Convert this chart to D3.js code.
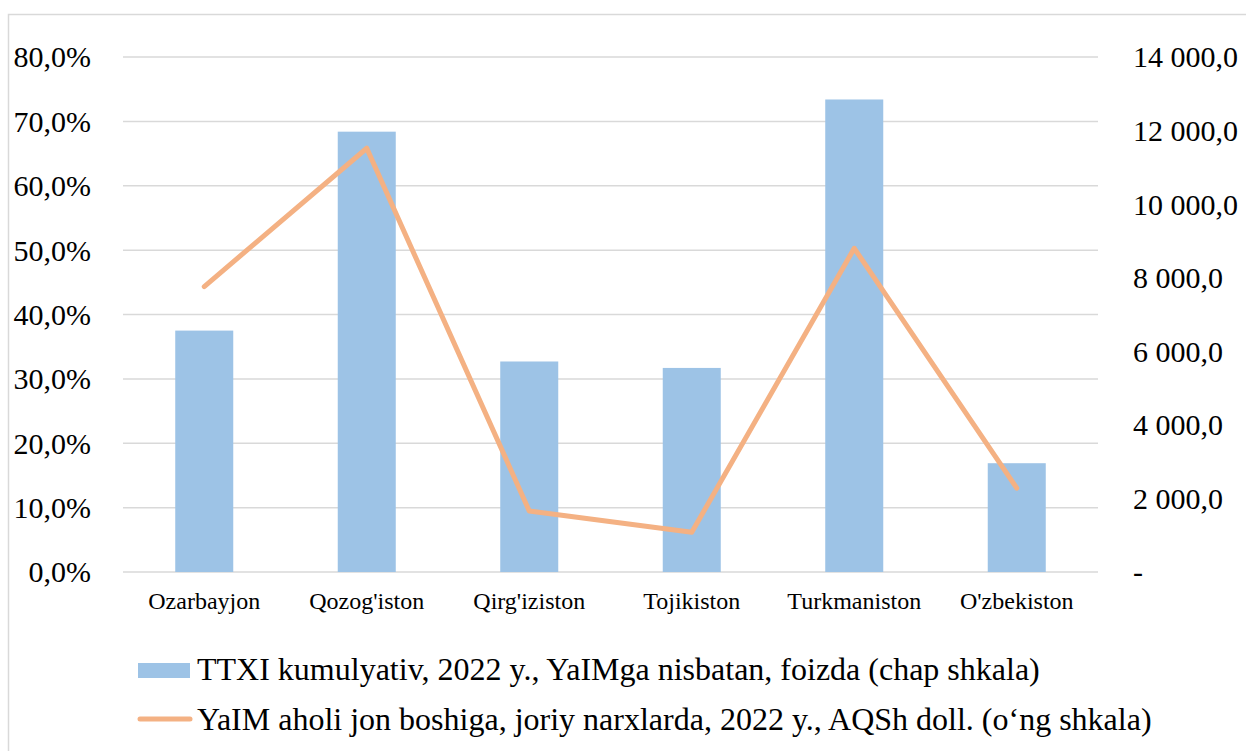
<!DOCTYPE html>
<html lang="uz">
<head>
  <meta charset="UTF-8">
  <title>TTXI va YaIM</title>
  <script src="https://cdn.jsdelivr.net/npm/d3@7"></script>
  <style>
    body { margin: 0; background: #fff; }
    text { font-family: "Liberation Serif", "Times New Roman", serif; fill: #000; }
    .grid line { stroke: #d9d9d9; stroke-width: 1.5; }
  </style>
</head>
<body>
<script>
  var countries = ["Ozarbayjon", "Qozog'iston", "Qirg'iziston", "Tojikiston", "Turkmaniston", "O'zbekiston"];
  var ttxi = [0.375, 0.684, 0.327, 0.317, 0.734, 0.169];
  var yaim = [7760, 11520, 1660, 1080, 8800, 2280];
  var leftTicks = [0, 0.1, 0.2, 0.3, 0.4, 0.5, 0.6, 0.7, 0.8];
  var rightTicks = [0, 2000, 4000, 6000, 8000, 10000, 12000, 14000];
  var legendLabels = [
    "TTXI kumulyativ, 2022 y., YaIMga nisbatan, foizda (chap shkala)",
    "YaIM aholi jon boshiga, joriy narxlarda, 2022 y., AQSh doll. (o\u2018ng shkala)"
  ];

  var W = 1246, H = 751;
  var plotL = 123, plotR = 1098, plotT = 57, plotB = 572;

  var svg = d3.select("body").append("svg")
    .attr("width", W)
    .attr("height", H);

  // chart border
  svg.append("rect")
    .attr("x", 8.5).attr("y", 14.5)
    .attr("width", W + 20).attr("height", H + 20)
    .attr("fill", "none")
    .attr("stroke", "#d9d9d9")
    .attr("stroke-width", 1.5);

  var x = d3.scaleBand()
    .domain(countries)
    .range([plotL, plotR])
    .paddingInner(0.643)
    .paddingOuter(0.3215);

  var yL = d3.scaleLinear().domain([0, 0.8]).range([plotB, plotT]);
  var yR = d3.scaleLinear().domain([0, 14000]).range([plotB, plotT]);

  var fmtPct = function (d) { return (d * 100).toFixed(1).replace(".", ",") + "%"; };
  var fmtNum = function (d) {
    if (d === 0) return "-";
    return d3.format(",.1f")(d).replace(/,/g, " ").replace(".", ",");
  };

  // gridlines
  svg.append("g")
    .attr("class", "grid")
    .selectAll("line")
    .data(leftTicks)
    .enter().append("line")
    .attr("x1", plotL).attr("x2", plotR)
    .attr("y1", function (d) { return yL(d); })
    .attr("y2", function (d) { return yL(d); });

  // left axis
  var axL = svg.append("g")
    .attr("transform", "translate(" + (plotL - 32) + ",0)")
    .call(d3.axisLeft(yL).tickValues(leftTicks).tickFormat(fmtPct).tickSize(0).tickPadding(0));
  axL.select(".domain").remove();
  axL.selectAll("text").style("font-size", "30px").attr("dy", "0.33em");

  // right axis
  var axR = svg.append("g")
    .attr("transform", "translate(" + (plotR + 35) + ",0)")
    .call(d3.axisRight(yR).tickValues(rightTicks).tickFormat(fmtNum).tickSize(0).tickPadding(0));
  axR.select(".domain").remove();
  axR.selectAll("text").style("font-size", "30px").attr("dy", "0.33em");

  // bottom axis labels
  var axB = svg.append("g")
    .attr("transform", "translate(0," + plotB + ")")
    .call(d3.axisBottom(x).tickSize(0).tickPadding(0));
  axB.select(".domain").remove();
  axB.selectAll("text").style("font-size", "24px").attr("y", 37).attr("dy", 0);

  // bars
  svg.selectAll(".bar")
    .data(countries)
    .enter().append("rect")
    .attr("class", "bar")
    .attr("x", function (d) { return x(d); })
    .attr("width", x.bandwidth())
    .attr("y", function (d, i) { return yL(ttxi[i]); })
    .attr("height", function (d, i) { return plotB - yL(ttxi[i]); })
    .attr("fill", "#9dc3e6");

  // line
  var line = d3.line()
    .x(function (d, i) { return x(countries[i]) + x.bandwidth() / 2; })
    .y(function (d) { return yR(d); });

  svg.append("path")
    .datum(yaim)
    .attr("fill", "none")
    .attr("stroke", "#f4b183")
    .attr("stroke-width", 5)
    .attr("stroke-linecap", "round")
    .attr("stroke-linejoin", "round")
    .attr("d", line);

  // legend
  var lg = svg.append("g");
  lg.append("rect")
    .attr("x", 138).attr("y", 663)
    .attr("width", 52).attr("height", 15)
    .attr("fill", "#9dc3e6");
  lg.append("line")
    .attr("x1", 140).attr("x2", 190)
    .attr("y1", 719).attr("y2", 719)
    .attr("stroke", "#f4b183")
    .attr("stroke-width", 5)
    .attr("stroke-linecap", "round");
  lg.selectAll("text")
    .data(legendLabels)
    .enter().append("text")
    .attr("x", 197)
    .attr("y", function (d, i) { return 680 + i * 50; })
    .style("font-size", "32px")
    .text(function (d) { return d; });
</script>
</body>
</html>
